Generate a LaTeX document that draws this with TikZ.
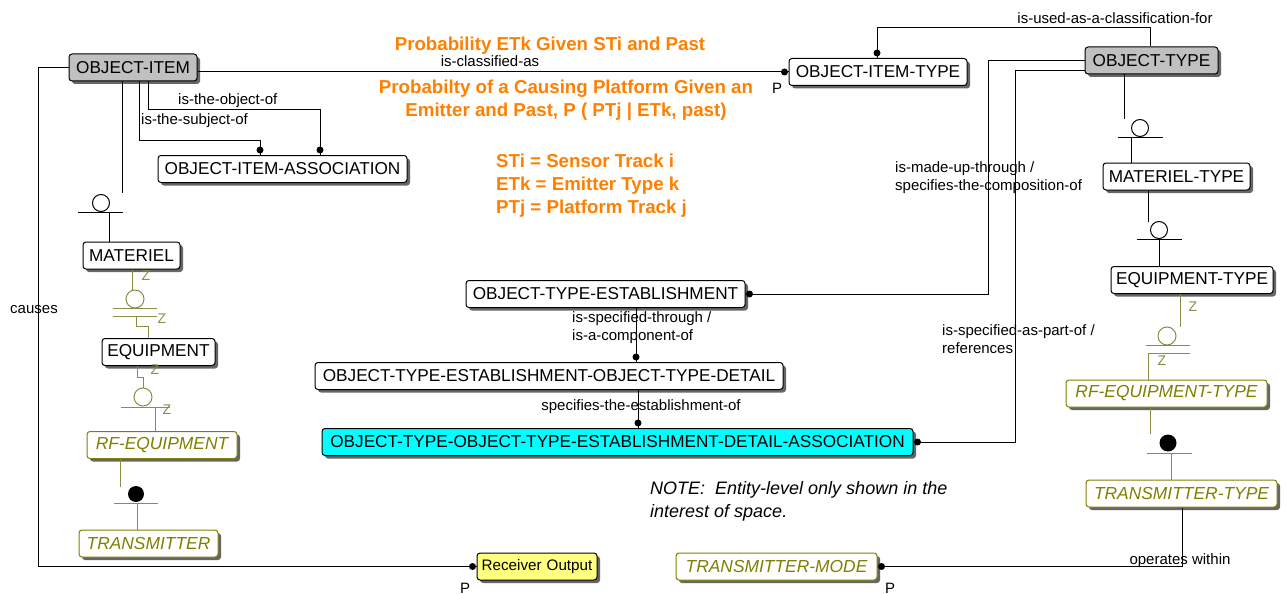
\documentclass[tikz,border=0pt]{standalone}
\usepackage{fontspec}
\setmainfont{Liberation Sans}
\usetikzlibrary{shadows,calc}
\definecolor{olv}{RGB}{128,128,0}
\definecolor{olvline}{RGB}{140,140,70}
\definecolor{gbox}{RGB}{192,192,192}
\definecolor{orng}{RGB}{255,128,0}
\definecolor{yel}{RGB}{255,255,128}
\definecolor{cyn}{RGB}{0,255,255}
\tikzset{
  ent/.style={draw, rounded corners=3pt, line width=1pt, fill=white, inner sep=1pt,
    minimum height=27pt, font=\fontsize{17.2}{18}\selectfont,
    drop shadow={shadow xshift=3pt, shadow yshift=-3pt, fill=black!60, opacity=1}},
  gent/.style={ent, fill=gbox},
  oent/.style={ent, draw=olv, text=olv, font=\fontsize{17.4}{18}\selectfont\itshape},
  lbl/.style={font=\fontsize{15}{18}\selectfont, inner sep=0pt},
  ml/.style={lbl, align=left, anchor=north west},
  orn/.style={text=orng, font=\fontsize{18.7}{23}\selectfont\bfseries, inner sep=0pt},
  conn/.style={line width=1pt},
  oconn/.style={line width=1pt, draw=olvline},
  zl/.style={text=olvline, font=\fontsize{14}{14}\selectfont, inner sep=0pt}
}
\begin{document}
\begin{tikzpicture}[x=1pt,y=-1pt]
\useasboundingbox (0,0) rectangle (1286,594);
\fill[white] (0,0) rectangle (1286,594);

% entities
\node[gent, minimum width=128pt] (oi) at (133,67.5) {OBJECT-ITEM};
\node[ent, minimum width=249pt] (oia) at (282.5,169) {OBJECT-ITEM-ASSOCIATION};
\node[ent, minimum width=178pt] (oit) at (878,72) {OBJECT-ITEM-TYPE};
\node[gent, minimum width=133pt] (ot) at (1151.5,60.5) {OBJECT-TYPE};
\node[ent, minimum width=147pt] (mt) at (1176.5,176.5) {MATERIEL-TYPE};
\node[ent, minimum width=162pt] (et) at (1192,280) {EQUIPMENT-TYPE};
\node[oent, minimum width=201pt] (rfet) at (1166.5,393.5) {RF-EQUIPMENT-TYPE};
\node[oent, minimum width=191pt] (tt) at (1181.5,493.5) {TRANSMITTER-TYPE};
\node[ent, minimum width=97pt] (mat) at (131.5,255.5) {MATERIEL};
\node[ent, minimum width=113pt] (eq) at (158.5,352) {EQUIPMENT};
\node[oent, minimum width=150pt] (rfe) at (162,445) {RF-EQUIPMENT};
\node[oent, minimum width=139pt] (tr) at (148.5,543.5) {TRANSMITTER};
\node[ent, fill=yel, minimum width=120pt, text width=116pt, align=center, font=\fontsize{15.2}{18}\selectfont] (ro) at (537,566.5) {Receiver Output};
\node[oent, minimum width=201pt] (tm) at (776.5,566.5) {TRANSMITTER-MODE};
\node[ent, minimum width=279pt] (ote) at (605.5,294) {OBJECT-TYPE-ESTABLISHMENT};
\node[ent, minimum width=468pt] (otd) at (549,376) {OBJECT-TYPE-ESTABLISHMENT-OBJECT-TYPE-DETAIL};
\node[ent, fill=cyn, minimum width=591pt] (ota) at (617.5,442) {OBJECT-TYPE-OBJECT-TYPE-ESTABLISHMENT-DETAIL-ASSOCIATION};

% is-classified-as
\draw[conn] (oi.east |- oit.west) -- (oit.west);
\fill ([xshift=-4pt]oit.west) circle[radius=3.5pt];
\node[lbl] (l1) at (490,61) {is-classified-as};
\node[lbl] (p1) at (777,88) {P};

% subject / object
\draw[conn] ([xshift=6pt]oi.south) -- (139,140) -- (260,140) -- ([xshift=-22.5pt]oia.north);
\fill ([xshift=-22.5pt,yshift=5pt]oia.north) circle[radius=3.5pt];
\draw[conn] ([xshift=15pt]oi.south) -- (148,109) -- (320,109) -- ([xshift=37.5pt]oia.north);
\fill ([xshift=37.5pt,yshift=5pt]oia.north) circle[radius=3.5pt];
\node[ml] (l2) at (178,93) {is-the-object-of};
\node[ml] (l3) at (141,113) {is-the-subject-of};

% causes
\draw[conn] ([yshift=-0.5pt]oi.west) -- (38,68) -- (38,566.5) -- (ro.west);
\fill ([xshift=-4pt]ro.west) circle[radius=3.5pt];
\node[lbl] (l4) at (34,310) {causes};
\node[lbl] (p2) at (465,588) {P};

% OBJECT-ITEM -> MATERIEL
\draw[conn] ([xshift=-11pt]oi.south) -- (122,193);
\draw[conn] (101,203) circle[radius=8.5pt];
\draw[conn] (78,212.5) -- (123,212.5);
\draw[conn] (109,212.5) -- ([xshift=-22.5pt]mat.north);

% MATERIEL -> EQUIPMENT
\draw[oconn] ([xshift=0.5pt]mat.south) -- (132,290);
\node[zl] (z1) at (146,276) {Z};
\draw[oconn] (135,299) circle[radius=9pt];
\draw[oconn] (113,308) -- (157,308);
\draw[oconn] (113,316) -- (157,316);
\draw[oconn] (136,316) -- (136,326) -- (148,326) -- ([xshift=-10.5pt]eq.north);
\node[zl] (z2) at (162,319) {Z};

% EQUIPMENT -> RF-EQUIPMENT
\draw[oconn] ([xshift=-21.5pt]eq.south) -- (137,377) -- (143,377) -- (143,388);
\node[zl] (z3) at (155,370) {Z};
\draw[oconn] (143,397) circle[radius=9pt];
\draw[oconn] (121,407) -- (170,407);
\node[zl] (z4) at (167,410) {Z};
\draw[oconn] (155,407) -- ([xshift=-7pt]rfe.north);

% RF-EQUIPMENT -> TRANSMITTER
\draw[oconn] ([xshift=-42pt]rfe.south) -- (120,487);
\fill (136,494) circle[radius=8pt];
\draw[oconn] (114,503) -- (158,503);
\draw[oconn] (137,503) -- ([xshift=-11.5pt]tr.north);

% OBJECT-TYPE -> MATERIEL-TYPE
\draw[conn] ([xshift=-27.5pt]ot.south) -- (1124,119);
\draw[conn] (1140,128) circle[radius=8.5pt];
\draw[conn] (1118,137.5) -- (1163,137.5);
\draw[conn] (1131,137.5) -- ([xshift=-45.5pt]mt.north);

% MATERIEL-TYPE -> EQUIPMENT-TYPE
\draw[conn] ([xshift=-28.5pt]mt.south) -- (1148,222);
\draw[conn] (1159,230) circle[radius=8.5pt];
\draw[conn] (1137,239) -- (1182,239);
\draw[conn] (1159,239) -- ([xshift=-33pt]et.north);

% EQUIPMENT-TYPE -> RF-EQUIPMENT-TYPE
\draw[oconn] ([xshift=-12pt]et.south) -- (1180,327);
\node[zl] (z5) at (1193,307) {Z};
\draw[oconn] (1167,336) circle[radius=9pt];
\draw[oconn] (1146,345) -- (1190,345);
\draw[oconn] (1190,353) -- (1148,353) -- ([xshift=-18.5pt]rfet.north);
\node[zl] (z6) at (1162,361) {Z};

% RF-EQUIPMENT-TYPE -> TRANSMITTER-TYPE
\draw[oconn] ([xshift=-16.5pt]rfet.south) -- (1150,434);
\fill (1168,443) circle[radius=8.5pt];
\draw[oconn] (1147,453) -- (1192,453);
\draw[oconn] (1171,453) -- ([xshift=-10.5pt]tt.north);

% TRANSMITTER-TYPE -> TRANSMITTER-MODE
\draw[conn] ([xshift=0.5pt]tt.south) -- (1182,566.5) -- (tm.east);
\fill ([xshift=4pt]tm.east) circle[radius=3.5pt];
\node[lbl] (l5) at (1180,561) {operates within};
\node[lbl] (p3) at (890,588) {P};

% OBJECT-TYPE -> OBJECT-ITEM-TYPE
\draw[conn] ([xshift=-1.5pt]ot.north) -- (1150,28) -- (877,28) -- ([xshift=-1pt]oit.north);
\fill ([xshift=-1pt,yshift=5pt]oit.north) circle[radius=3.5pt];
\node[lbl] (l6) at (1115,18) {is-used-as-a-classification-for};

% OBJECT-TYPE -> OBJECT-TYPE-ESTABLISHMENT
\draw[conn] (ot.west) -- (988,60.5) -- (988,294) -- (ote.east);
\fill ([xshift=4pt]ote.east) circle[radius=3.5pt];
\node[ml] (l7) at (895,161) {is-made-up-through /\\specifies-the-composition-of};

% OBJECT-TYPE -> ASSOCIATION
\draw[conn] ([yshift=-10.5pt]ot.west) -- (1015,71) -- (1015,442) -- (ota.east);
\fill ([xshift=4pt]ota.east) circle[radius=3.5pt];
\node[ml] (l8) at (942,324) {is-specified-as-part-of /\\references};

% OTE -> OTD
\draw[conn] ([xshift=30.5pt]ote.south) -- ([xshift=87pt]otd.north);
\fill ([xshift=87pt,yshift=5pt]otd.north) circle[radius=3.5pt];
\node[ml] (l9) at (572,311) {is-specified-through /\\is-a-component-of};

% OTD -> OTA
\draw[conn] ([xshift=89pt]otd.south) -- ([xshift=20.5pt]ota.north);
\fill ([xshift=20.5pt,yshift=5pt]ota.north) circle[radius=3.5pt];
\node[lbl] (l10) at (641,407) {specifies-the-establishment-of};

% orange text
\node[orn] (o1) at (550,46) {Probability ETk Given STi and Past};
\node[orn, align=center] (o2) at (566,100.5) {Probabilty of a Causing Platform Given an\\Emitter and Past, P ( PTj | ETk, past)};
\node[orn, align=left, anchor=north west] (o3) at (496,154) {STi = Sensor Track i\\ETk = Emitter Type k\\PTj = Platform Track j};

% note
\node[align=left, anchor=north west, inner sep=0pt, font=\fontsize{18}{23}\selectfont\itshape] (note) at (650,481) {NOTE:\ \ Entity-level only shown in the\\interest of space.};
\end{tikzpicture}
\end{document}
